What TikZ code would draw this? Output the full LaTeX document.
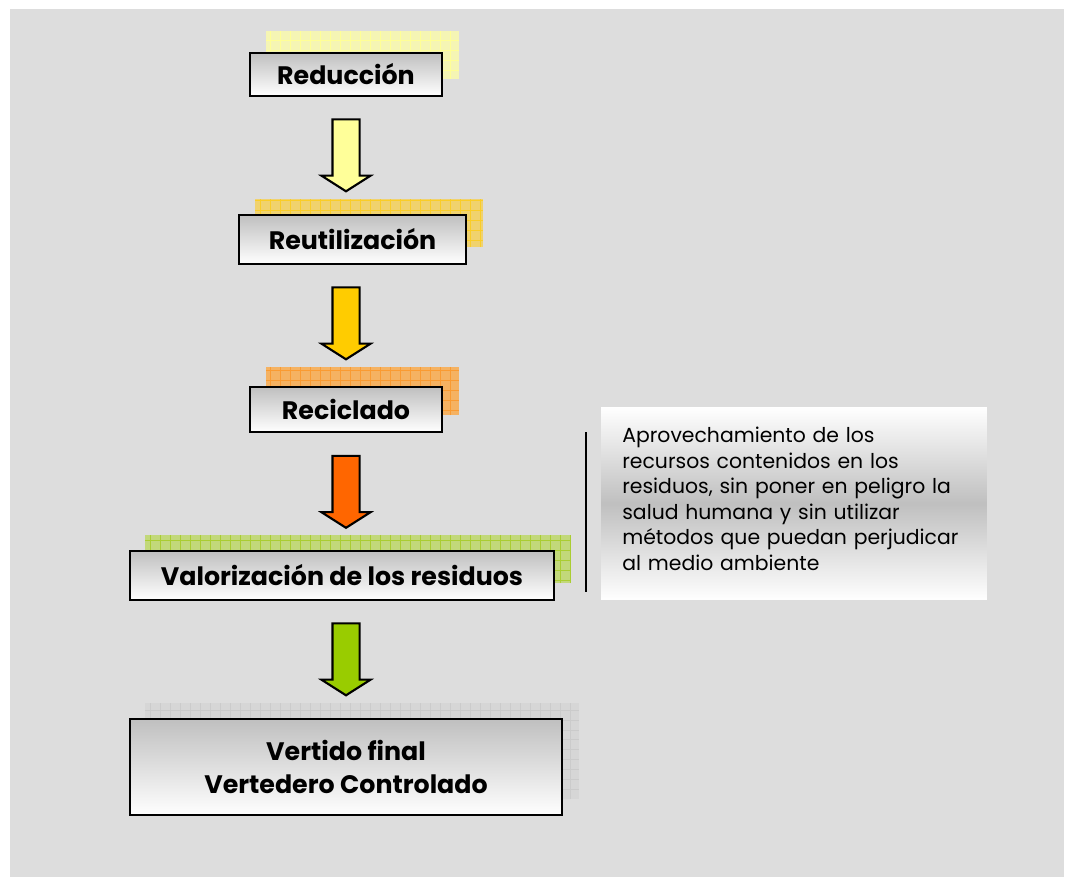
\documentclass[tikz,border=0pt]{standalone}
\usepackage{fontspec}
\setmainfont{Poppins}
\usetikzlibrary{shapes.arrows}
\definecolor{bggray}{RGB}{221,221,221}
\definecolor{redfill}{RGB}{245,245,180}
\definecolor{redline}{RGB}{255,255,150}
\definecolor{reufill}{RGB}{240,210,110}
\definecolor{reuline}{RGB}{250,205,40}
\definecolor{recfill}{RGB}{245,178,98}
\definecolor{recline}{RGB}{250,155,50}
\definecolor{valfill}{RGB}{194,216,122}
\definecolor{valline}{RGB}{170,205,50}
\definecolor{verfill}{RGB}{214,214,214}
\definecolor{verline}{RGB}{203,203,203}
\definecolor{arrowa}{RGB}{255,255,153}
\definecolor{arrowb}{RGB}{255,204,0}
\definecolor{arrowc}{RGB}{255,102,0}
\definecolor{arrowd}{RGB}{153,204,0}
\tikzstyle{stage}=[draw=black,line width=1.3pt,top color=gray!50,bottom color=white,font=\fontsize{14.4}{18.5}\selectfont\bfseries,align=center,inner sep=0pt]
\tikzstyle{downarrow}=[single arrow,shape border rotate=270,draw=black,line width=1.2pt,minimum height=1.44cm,inner sep=0.25cm,single arrow head extend=0.22cm,single arrow tip angle=115]
\tikzstyle{gridline}=[line width=0.4pt]
\tikzstyle{notebox}=[top color=white,bottom color=white,middle color=gray!50,minimum width=7.72cm,minimum height=3.86cm,inner sep=0pt]
\tikzstyle{notetext}=[text width=6.88cm,align=left,inner sep=0pt,font=\fontsize{11.6}{14.5}\selectfont]

\begin{document}
\begin{tikzpicture}[x=0.02cm,y=-0.02cm]
\useasboundingbox (0,0) rectangle (1065,879);
\fill[white] (0,0) rectangle (1065,879);
\fill[bggray] (10,9) rectangle (1064,877);
% shadows
\fill[redfill] (266,31) rectangle (459,79);
\draw[gridline,redline] (266,31) grid[step=0.2cm] (459,79);
\fill[reufill] (255,199) rectangle (483,247);
\draw[gridline,reuline] (255,199) grid[step=0.2cm] (483,247);
\fill[recfill] (266,367) rectangle (459,415);
\draw[gridline,recline] (266,367) grid[step=0.2cm] (459,415);
\fill[valfill] (145,535) rectangle (570,583);
\draw[gridline,valline] (145,535) grid[step=0.2cm] (570,583);
\fill[verfill] (145,703) rectangle (579,799);
\draw[gridline,verline] (145,703) grid[step=0.2cm] (579,799);
% stages
\node[stage,minimum width=3.84cm,minimum height=0.86cm] at (346,74.5) (red) {Reducción};
\node[stage,minimum width=4.54cm,minimum height=0.98cm] at (352.5,239.5) (reu) {Reutilización};
\node[stage,minimum width=3.84cm,minimum height=0.9cm] at (346,409.5) (rec) {Reciclado};
\node[stage,minimum width=8.48cm,minimum height=0.98cm] at (342,575.5) (val) {Valorización de los residuos};
\node[stage,minimum width=8.64cm,minimum height=1.92cm] at (346,767) (ver) {Vertido final\\Vertedero Controlado};
% arrows
\node[downarrow,fill=arrowa] at (346,151) (arr1) {};
\node[downarrow,fill=arrowb] at (346,319) (arr2) {};
\node[downarrow,fill=arrowc] at (346,487.5) (arr3) {};
\node[downarrow,fill=arrowd] at (346,655) (arr4) {};
% note
\node[notebox] at (794,503.5) (note) {};
\node[notetext,anchor=west] at (622,499) (notetext) {Aprovechamiento de los\\recursos contenidos en los\\residuos, sin poner en peligro la\\salud humana y sin utilizar\\métodos que puedan perjudicar\\al medio ambiente};
\draw[line width=1.2pt] (586,432) -- (586,592);
\end{tikzpicture}
\end{document}
